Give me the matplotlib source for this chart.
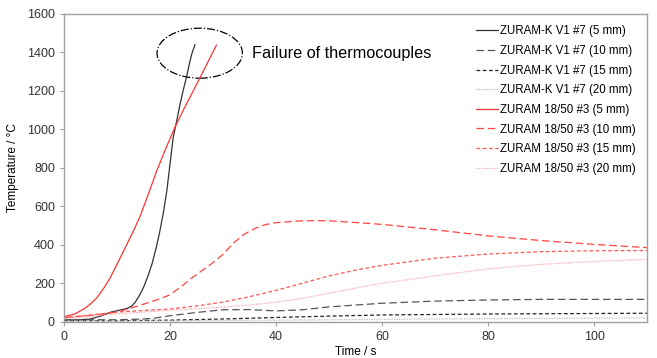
import numpy as np
import matplotlib.pyplot as plt
from matplotlib.patches import Ellipse

plt.rcParams['font.family'] = ['Liberation Sans', 'DejaVu Sans']

# ZURAM-K V1 #7
k5_t = [0, 3, 5, 7, 8.75, 10.5, 11.9, 12.7, 13.4, 14.2, 15, 15.8, 16.6, 17.4, 18.1, 18.8, 19.4, 20, 20.6, 21.3, 21.9, 22.5, 23.1, 23.6, 24.1, 24.7]
k5_T = [8, 10, 14, 30, 49, 60, 69, 80, 100, 135, 178, 235, 300, 385, 473, 575, 681, 820, 958, 1050, 1132, 1205, 1270, 1335, 1392, 1440]
k10_t = [0, 10, 15, 17, 20, 25, 30, 35, 40, 45, 50, 60, 70, 80, 90, 110]
k10_T = [10, 10, 14, 18, 31, 48, 62, 63, 56, 62, 77, 96, 107, 113, 116, 116]
k15_t = [0, 10, 20, 30, 40, 50, 60, 80, 110]
k15_T = [5, 5, 8, 14, 22, 29, 35, 40, 44]
k20_t = [0, 20, 40, 60, 80, 110]
k20_T = [4, 5, 8, 12, 16, 20]

# ZURAM 18/50 #3
z5_t = [0, 2, 3.75, 5, 6.25, 7.5, 8.75, 10.3, 11.9, 13.2, 14.4, 16, 17.5, 19.2, 20.9, 22.6, 24.4, 26.5, 28.75]
z5_T = [26, 40, 66, 92, 126, 174, 230, 315, 404, 478, 551, 670, 785, 900, 1010, 1105, 1201, 1315, 1438]
z10_t = [0, 5, 10, 13.75, 16, 18, 20, 22, 24, 26, 28, 30, 32, 34, 36, 38, 40, 45, 50, 60, 70, 80, 90, 100, 110]
z10_T = [22, 32, 50, 80, 100, 118, 140, 180, 225, 265, 305, 350, 410, 455, 485, 505, 515, 525, 525, 506, 478, 446, 422, 402, 385]
z15_t = [0, 5, 10, 15, 20, 25, 30, 35, 40, 45, 50, 55, 60, 70, 80, 90, 100, 110]
z15_T = [20, 35, 50, 58, 66, 82, 102, 130, 163, 200, 238, 268, 293, 330, 352, 364, 369, 370]
z20_t = [0, 5, 10, 15, 20, 25, 30, 35, 40, 45, 50, 55, 60, 70, 80, 90, 100, 110]
z20_T = [15, 28, 40, 50, 60, 67, 76, 87, 101, 122, 148, 175, 200, 238, 275, 298, 313, 324]

series = [
    (k5_t, k5_T, 'ZURAM-K V1 #7 (5 mm)', '#333333', '-'),
    (k10_t, k10_T, 'ZURAM-K V1 #7 (10 mm)', '#555555', (0, (6, 3))),
    (k15_t, k15_T, 'ZURAM-K V1 #7 (15 mm)', '#222222', (0, (3, 2))),
    (k20_t, k20_T, 'ZURAM-K V1 #7 (20 mm)', '#bbbbbb', (0, (1, 1))),
    (z5_t, z5_T, 'ZURAM 18/50 #3 (5 mm)', '#ff3333', '-'),
    (z10_t, z10_T, 'ZURAM 18/50 #3 (10 mm)', '#ff4444', (0, (6, 3))),
    (z15_t, z15_T, 'ZURAM 18/50 #3 (15 mm)', '#ff5555', (0, (3, 2))),
    (z20_t, z20_T, 'ZURAM 18/50 #3 (20 mm)', '#ffaaaa', (0, (1, 1))),
]

fig = plt.figure(figsize=(6.57, 3.58), dpi=100)
ax = fig.add_axes([0.0974, 0.1014, 0.8876, 0.8596])

for t, T, lab, col, ls in series:
    ax.plot(t, T, color=col, linestyle=ls, linewidth=0.9, label=lab)

ax.add_patch(Ellipse((25.6, 1396), 16.1, 260, fill=False, edgecolor='black',
                     linestyle='-.', linewidth=0.9))
ax.text(35.4, 1397, 'Failure of thermocouples', fontsize=11.7, va='center', ha='left')

ax.set_xlim(0, 110)
ax.set_ylim(0, 1600)
ax.set_xticks([0, 20, 40, 60, 80, 100])
ax.set_yticks(np.arange(0, 1601, 200))
ax.tick_params(labelsize=9, colors='#333333', length=3, width=0.8)
for s in ax.spines.values():
    s.set_color('#a0a0a0')
    s.set_linewidth(1)
ax.tick_params(axis='both', color='#a0a0a0')

ax.set_xlabel('Time / s', fontsize=8.5, labelpad=2)
ax.set_ylabel('Temperature / °C', fontsize=8.5, labelpad=6)

ax.legend(loc='upper right', frameon=False, fontsize=8.3, handlelength=1.9,
          handletextpad=0.2, labelspacing=0.66, borderaxespad=0.6)

fig.savefig('out.png', dpi=100)
